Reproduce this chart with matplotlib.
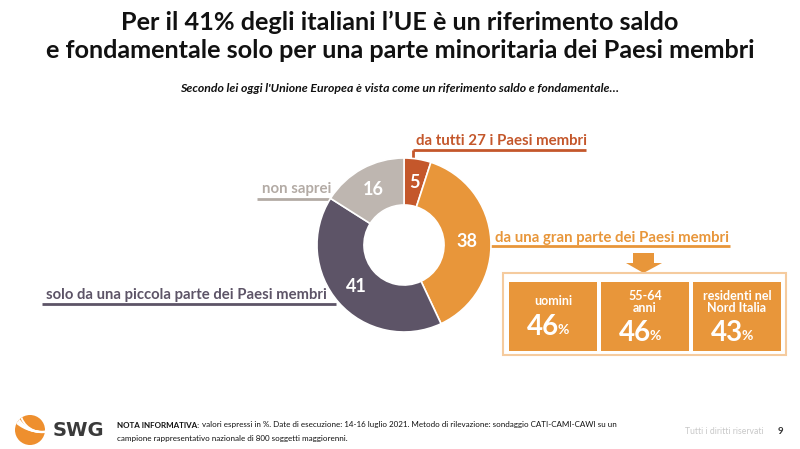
import matplotlib
matplotlib.use("Agg")
import matplotlib.pyplot as plt
from matplotlib.patches import Rectangle, Polygon, Circle, Arc

# ---- data ----
categories = ["da tutti 27 i Paesi membri", "da una gran parte dei Paesi membri",
              "solo da una piccola parte dei Paesi membri", "non saprei"]
values = [5, 38, 41, 16]
colors = ["#C4572B", "#E8963A", "#5D5467", "#BEB6B0"]
label_colors = ["#C4572B", "#E8963A", "#5D5467", "#B3ABA5"]
box_labels = ["uomini", "55-64\nanni", "residenti nel\nNord Italia"]
box_values = [46, 46, 43]

W, H = 800, 449
fig = plt.figure(figsize=(W / 100, H / 100), dpi=100)
fig.patch.set_facecolor("white")

bg = fig.add_axes([0, 0, 1, 1])
bg.set_xlim(0, W)
bg.set_ylim(H, 0)
bg.axis("off")

FONT = "Lato"

# title
bg.text(400, 22, "Per il 41% degli italiani l\u2019UE è un riferimento saldo", ha="center", va="center",
        fontsize=18.2, fontweight="bold", family=FONT, color="#111111")
bg.text(400, 50, "e fondamentale solo per una parte minoritaria dei Paesi membri", ha="center", va="center",
        fontsize=18.2, fontweight="bold", family=FONT, color="#111111")
bg.text(400, 89, "Secondo lei oggi l'Unione Europea è vista come un riferimento saldo e fondamentale\u2026",
        ha="center", va="center", fontsize=8.8, fontweight="bold", style="italic", family=FONT,
        color="#111111")

# donut
cx, cy, R = 404, 245, 87
pax = fig.add_axes([(cx - R) / W, (H - cy - R) / H, 2 * R / W, 2 * R / H])
wedges, texts = pax.pie(values, colors=colors, startangle=90, counterclock=False,
                        radius=1.0, labels=[str(v) for v in values], labeldistance=0.73,
                        wedgeprops=dict(width=0.54, edgecolor="white", linewidth=1.2),
                        textprops=dict(color="white", fontsize=13, fontweight="bold", family=FONT,
                                       ha="center", va="center"))
pax.set_xlim(-1, 1)
pax.set_ylim(-1, 1)
pax.set_aspect("equal")
pax.axis("off")

# category labels with underlines
lw = 2.0
bg.text(416, 141, categories[0], ha="left", va="center", fontsize=10.8, fontweight="bold",
        family=FONT, color=label_colors[0])
bg.plot([413, 586], [150, 150], color=label_colors[0], lw=lw, solid_capstyle="butt")
bg.plot([413, 413], [150, 160], color=label_colors[0], lw=lw, solid_capstyle="butt")
bg.text(495, 238, categories[1], ha="left", va="center", fontsize=10.8, fontweight="bold",
        family=FONT, color=label_colors[1])
bg.plot([490, 730], [246, 246], color=label_colors[1], lw=lw, solid_capstyle="butt")
bg.text(46, 295, categories[2], ha="left", va="center", fontsize=10.7, fontweight="bold",
        family=FONT, color=label_colors[2])
bg.plot([42, 336], [304, 304], color=label_colors[2], lw=lw, solid_capstyle="butt")
bg.text(262, 189, categories[3], ha="left", va="center", fontsize=10.8, fontweight="bold",
        family=FONT, color=label_colors[3])
bg.plot([257, 332], [199, 199], color=label_colors[3], lw=lw, solid_capstyle="butt")

# arrow
bg.add_patch(Polygon([[633, 253], [654, 253], [654, 263], [662, 263], [643.5, 273],
                      [626, 263], [633, 263]], closed=True, facecolor="#E8963A", edgecolor="none"))

# frame + boxes
bg.add_patch(Rectangle((503, 273), 283, 82, facecolor="white", edgecolor="#F5CB9E", lw=1.5))
box_x = [509, 601, 693]
box_w = [88, 88, 88]
for i, (lab, val) in enumerate(zip(box_labels, box_values)):
    x0 = box_x[i]
    bg.add_patch(Rectangle((x0, 282), box_w[i], 69, facecolor="#E8963A", edgecolor="none"))
    xc = x0 + box_w[i] / 2
    if "\n" in lab:
        bg.text(xc, 302, lab, ha="center", va="center", fontsize=9, fontweight="bold",
                family=FONT, color="white", linespacing=1.0)
        ynum = 333
    else:
        bg.text(xc, 301, lab, ha="center", va="center", fontsize=9, fontweight="bold",
                family=FONT, color="white")
        ynum = 327
    bg.text(xc + 6, ynum, "%d" % val, ha="right", va="center", fontsize=20, fontweight="bold",
            family=FONT, color="white")
    bg.text(xc + 5, ynum + 3, "%", ha="left", va="center", fontsize=10, fontweight="bold",
            family=FONT, color="white")

# footer logo
logo = Circle((30, 430), 15, facecolor="#EE8F2E", edgecolor="none")
bg.add_patch(logo)
for r, wdt in [(22, 1.4), (28, 1.6), (34, 1.6), (40, 1.4)]:
    a = Arc((42, 430 - r + 2), 2 * r, 2 * r, theta1=0, theta2=180, color="white", lw=wdt)
    bg.add_patch(a)
    a.set_clip_path(logo)
bg.text(53, 431, "SWG", ha="left", va="center", fontsize=14, fontweight="bold",
        family="DejaVu Sans", color="#3A3A3A")

FS = 5.8
t1 = bg.text(117, 425, "NOTA INFORMATIVA:", ha="left", va="center", fontsize=FS, fontweight="bold",
             family=FONT, color="#111111")
fig.canvas.draw()
bb = t1.get_window_extent()
x_after = bb.x1 + 2.5
bg.text(x_after, 425, "valori espressi in %. Date di esecuzione: 14-16 luglio 2021. Metodo di rilevazione: "
        "sondaggio CATI-CAMI-CAWI su un", ha="left", va="center", fontsize=FS, family=FONT,
        color="#111111")
bg.text(117, 438, "campione rappresentativo nazionale di 800 soggetti maggiorenni.", ha="left",
        va="center", fontsize=FS, family=FONT, color="#111111")
bg.text(685, 432, "Tutti i diritti riservati", ha="left", va="center", fontsize=6.2, family=FONT,
        color="#C8C8C8")
bg.text(780, 432, "9", ha="center", va="center", fontsize=7, fontweight="bold", family=FONT,
        color="#333333")

fig.savefig("out.png", dpi=100, facecolor="white")
